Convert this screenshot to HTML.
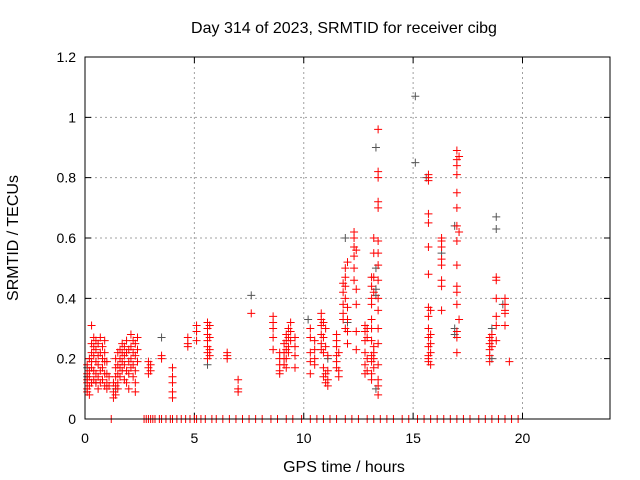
<!DOCTYPE html>
<html><head><meta charset="utf-8"><style>
body{margin:0;background:#fff}
svg{display:block;font-family:"Liberation Sans",sans-serif}
</style></head><body>
<svg id="chart" width="640" height="480">
<text x="344" y="33" font-size="16" text-anchor="middle">Day 314 of 2023, SRMTID for receiver cibg</text>
<text x="344" y="472" font-size="16" text-anchor="middle">GPS time / hours</text>
<text x="18" y="238" font-size="16" text-anchor="middle" transform="rotate(-90 18 238)">SRMTID / TECUs</text>
<g id="grid"></g><g id="ticks"></g><g id="black"></g><g id="red"></g>
<rect x="85" y="57" width="525" height="362" fill="none" stroke="#000" stroke-width="1"/>
</svg>
<script>
const xTicks=[0,5,10,15,20];
const yTicks=[0,0.2,0.4,0.6,0.8,1,1.2];
const yTickLabels=["0","0.2","0.4","0.6","0.8","1","1.2"];
const redX=[0.1,0.1,0.1,0.1,0.1,0.1,0.2,0.2,0.2,0.2,0.2,0.3,0.3,0.3,0.3,0.3,0.3,0.4,0.4,0.4,0.4,0.4,0.5,0.5,0.5,0.5,0.5,0.6,0.6,0.6,0.6,0.6,0.7,0.7,0.7,0.7,0.8,0.8,0.8,0.8,0.9,0.9,0.9,0.9,0.9,1.0,1.0,1.0,1.0,1.1,1.1,1.3,1.3,1.3,1.4,1.4,1.4,1.4,1.4,1.5,1.5,1.5,1.5,1.5,1.6,1.6,1.6,1.6,1.7,1.7,1.7,1.7,1.8,1.8,1.8,1.8,1.9,1.9,1.9,1.9,2.0,2.0,2.0,2.0,2.1,2.1,2.1,2.1,2.2,2.2,2.2,2.2,2.3,2.3,2.3,2.3,2.3,2.4,2.4,2.4,2.9,2.9,2.9,3.0,3.0,3.5,3.5,4.0,4.0,4.0,4.0,4.0,4.7,4.7,4.7,5.1,5.1,5.1,5.6,5.6,5.6,5.6,5.6,5.6,5.6,5.7,5.7,5.7,5.7,6.5,6.5,6.5,7.0,7.0,7.0,7.6,8.6,8.6,8.6,8.6,8.6,8.9,8.9,8.9,8.9,8.9,9.1,9.1,9.1,9.1,9.2,9.2,9.2,9.2,9.2,9.3,9.3,9.3,9.3,9.4,9.4,9.4,9.6,9.6,9.6,9.6,10.3,10.3,10.3,10.3,10.3,10.5,10.5,10.5,10.5,10.8,10.8,10.8,10.8,10.8,10.8,10.9,10.9,10.9,10.9,10.9,11.0,11.0,11.0,11.0,11.1,11.1,11.1,11.1,11.5,11.5,11.5,11.5,11.5,11.5,11.6,11.6,11.6,11.8,11.8,11.8,11.8,11.8,11.9,11.9,11.9,11.9,11.9,12.0,12.0,12.0,12.0,12.0,12.3,12.3,12.3,12.3,12.3,12.3,12.4,12.4,12.4,12.4,12.4,12.8,12.8,12.8,12.8,12.8,12.8,12.9,12.9,12.9,12.9,13.1,13.1,13.1,13.1,13.1,13.1,13.1,13.1,13.1,13.1,13.1,13.2,13.2,13.2,13.2,13.2,13.2,13.2,13.2,13.4,13.4,13.4,13.4,13.4,13.4,13.4,13.4,13.4,13.4,13.4,13.4,13.4,13.4,13.4,13.4,13.4,15.7,15.7,15.7,15.7,15.7,15.7,15.7,15.7,15.7,15.7,15.7,15.7,15.7,15.7,15.7,15.8,15.8,15.8,15.8,15.8,16.3,16.3,16.3,16.3,16.3,16.3,16.3,16.3,17.0,17.0,17.0,17.0,17.0,17.0,17.0,17.0,17.0,17.0,17.0,17.0,17.0,17.0,17.0,17.1,17.1,17.1,18.5,18.5,18.5,18.5,18.5,18.6,18.6,18.6,18.8,18.8,18.8,18.8,18.8,18.8,19.2,19.2,19.2,19.2,19.2,19.4];
const redY=[.15,.12,.10,.18,.13,.09,.2,.14,.11,.08,.16,.31,.25,.22,.19,.17,.12,.27,.24,.21,.16,.13,.26,.23,.19,.15,.12,.25,.21,.18,.14,.10,.27,.22,.16,.12,.24,.2,.17,.13,.26,.22,.19,.15,.11,.19,.15,.12,.1,.14,.11,.12,.09,.07,.2,.17,.14,.11,.08,.22,.18,.15,.12,.1,.23,.2,.17,.14,.25,.22,.19,.16,.24,.21,.18,.13,.26,.22,.16,.12,.23,.19,.15,.1,.28,.24,.2,.17,.26,.22,.18,.14,.25,.21,.16,.12,.09,.27,.23,.19,.19,.17,.15,.18,.16,.21,.2,.17,.14,.12,.09,.07,.27,.25,.24,.31,.29,.26,.32,.3,.28,.26,.24,.22,.2,.31,.27,.23,.21,.22,.21,.2,.13,.1,.09,.35,.34,.32,.3,.27,.23,.22,.2,.18,.16,.15,.25,.22,.2,.18,.28,.26,.23,.2,.17,.3,.27,.24,.22,.32,.29,.26,.27,.24,.21,.17,.3,.27,.22,.19,.15,.26,.23,.2,.18,.35,.33,.31,.28,.25,.23,.32,.27,.22,.17,.14,.3,.24,.15,.12,.21,.16,.13,.11,.28,.26,.24,.21,.19,.17,.22,.16,.14,.45,.42,.38,.35,.33,.5,.47,.44,.4,.3,.52,.37,.33,.29,.25,.62,.6,.57,.54,.5,.46,.56,.43,.38,.29,.23,.31,.29,.26,.22,.18,.15,.3,.27,.2,.16,.47,.44,.4,.38,.33,.3,.26,.21,.19,.15,.13,.6,.55,.47,.42,.24,.22,.2,.17,.96,.82,.8,.72,.7,.59,.55,.51,.46,.4,.36,.3,.25,.18,.13,.11,.08,.81,.8,.79,.68,.65,.57,.48,.37,.34,.3,.27,.24,.21,.2,.19,.36,.28,.25,.22,.18,.6,.59,.57,.53,.51,.46,.44,.36,.89,.86,.84,.81,.75,.7,.64,.59,.51,.44,.42,.38,.29,.27,.22,.87,.62,.33,.27,.25,.23,.21,.19,.28,.26,.24,.47,.46,.4,.34,.31,.26,.4,.38,.36,.35,.31,.19];
const blackX=[0.1,0.1,0.5,1.4,3.5,5.6,7.6,10.2,11.1,11.9,12.0,13.3,13.3,13.3,13.3,13.3,15.1,15.1,15.6,16.3,16.9,16.9,16.9,18.6,18.6,18.8,18.8,19.1];
const blackY=[.17,.14,.12,.1,.27,.18,.41,.33,.2,.6,.32,.9,.5,.43,.41,.1,1.07,.85,.8,.55,.64,.3,.28,.3,.2,.67,.63,.38];
const zeroX=[1.2,2.7,2.8,2.9,3.0,3.1,3.2,3.4,3.5,3.7,3.9,4.0,4.2,4.4,4.6,4.8,5.0,5.1,5.3,5.5,5.8,6.0,6.3,6.6,6.9,7.2,7.5,7.8,8.1,8.5,8.8,9.2,9.5,9.9,10.3,10.6,10.9,11.2,11.5,11.9,12.2,12.5,12.9,13.2,13.5,13.8,14.1,14.5,14.8,15.2,15.5,15.8,16.1,16.4,16.7,17.0,17.3,17.6,18.0,18.3,18.6,18.9,19.2,19.5,19.8];
const NS="http://www.w3.org/2000/svg";
const X0=85,X1=610,Y0=419,Y1=57;
function sx(v){return X0+v/24*(X1-X0);}
function sy(v){return Y0-v/1.2*(Y0-Y1);}
function mk(tag,attrs,parent){const e=document.createElementNS(NS,tag);for(const k in attrs)e.setAttribute(k,attrs[k]);document.getElementById(parent).appendChild(e);return e;}
xTicks.forEach(t=>{const x=sx(t);
 if(t>0){const g=mk('line',{x1:x,x2:x,y1:Y0,y2:Y1,stroke:'#a0a0a0','stroke-dasharray':'2,3'},'grid');
 
 }
 const tk=mk('path',{d:`M${x},${Y0}v-6M${x},${Y1}v6`,stroke:'#000'},'ticks');
 
 
 const l=mk('text',{x:x,y:Y0+24,'font-size':14,'text-anchor':'middle'},'ticks');l.textContent=String(t);
 
 });
yTicks.forEach((t,i)=>{const y=sy(t);
 if(t>0&&t<1.2){const g=mk('line',{x1:X0,x2:X1,y1:y,y2:y,stroke:'#a0a0a0','stroke-dasharray':'2,3'},'grid');
 
 }
 const tk=mk('path',{d:`M${X0},${y}h6M${X1},${y}h-6`,stroke:'#000'},'ticks');
 
 
 const l=mk('text',{x:X0-9,y:y+5,'font-size':14,'text-anchor':'end'},'ticks');l.textContent=yTickLabels[i];
 
 });
function plus(x,y,col,g,name){const p=mk('path',{d:`M${x-4},${y}h8M${x},${y-4}v8`,stroke:col,'stroke-width':1},g);
 
 }
blackX.forEach((v,i)=>plus(sx(v),sy(blackY[i]),'#555','black','black-point'));
zeroX.forEach(v=>plus(sx(v),sy(0),'#f00','red','zero-point'));
redX.forEach((v,i)=>plus(sx(v),sy(redY[i]),'#f00','red','red-point'));
</script>
</body></html>
